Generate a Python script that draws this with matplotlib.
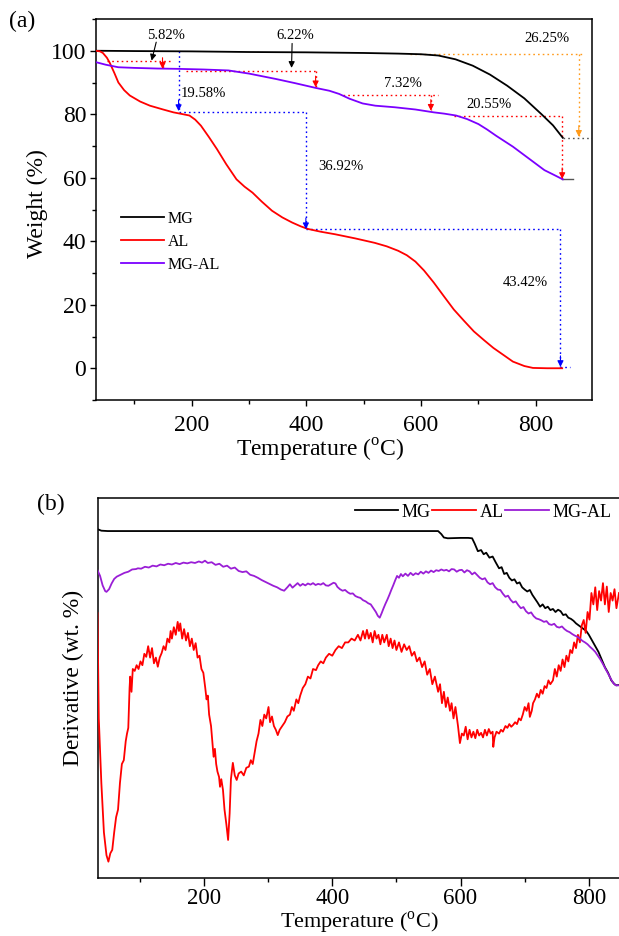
import matplotlib
matplotlib.use("Agg")
import matplotlib.pyplot as plt
from matplotlib.ticker import MultipleLocator, NullLocator

plt.rcParams['font.family'] = ['Liberation Serif', 'DejaVu Serif']
plt.rcParams['mathtext.fontset'] = 'custom'
plt.rcParams['mathtext.rm'] = 'Liberation Serif'

# ---------------- Data: panel (a) TGA ----------------
temp_mg = [33, 100, 200, 300, 400, 500, 560, 600, 630, 660, 690, 720, 750, 780, 810, 830, 847]
weight_mg = [100, 99.9, 99.8, 99.6, 99.5, 99.3, 99.1, 98.9, 98.5, 97.3, 95.3, 92.5, 89.0, 85.0, 80.0, 76.5, 72.6]

temp_al = [33, 40, 45, 52, 57, 65, 72, 82, 92, 110, 127, 150, 168, 185, 196, 206, 216, 230, 244, 260,
           278, 292, 306, 322, 340, 358, 375, 390, 402, 425, 450, 485, 519, 540, 560, 575, 590, 605, 622, 640,
           657, 675, 692, 710, 726, 745, 760, 780, 795, 820, 846]
weight_al = [100, 99.8, 99.3, 97.8, 96.2, 93.0, 90.0, 87.6, 85.9, 84.0, 82.7, 81.5, 80.6, 80.0, 79.6, 78.3, 76.4, 72.8, 69.0, 64.3,
             59.5, 57.2, 55.3, 52.5, 49.6, 47.5, 45.9, 44.7, 43.9, 43.0, 42.2, 40.9, 39.5, 38.4, 37.0, 35.6, 33.6, 30.8, 27.0, 22.6,
             18.5, 14.9, 11.6, 8.8, 6.4, 4.0, 2.1, 0.7, 0.1, 0.0, 0.0]

temp_mgal = [33, 50, 72, 100, 140, 175, 220, 264, 300, 347, 380, 416, 440, 457, 475, 498, 520, 554, 590, 622,
             640, 661, 680, 700, 715, 731, 760, 789, 815, 835, 847]
weight_mgal = [96.4, 95.6, 94.8, 94.6, 94.4, 94.3, 94.1, 93.8, 92.8, 91.1, 89.8, 88.3, 87.4, 86.4, 84.9, 83.4, 82.7, 82.2, 81.5, 80.6,
               80.2, 79.6, 78.5, 76.9, 75.2, 73.2, 69.8, 65.9, 62.4, 60.6, 59.5]

series_names = ["MG", "AL", "MG-AL"]
loss_labels = ["5.82%", "6.22%", "7.32%", "20.55%", "26.25%", "19.58%", "36.92%", "43.42%"]

# ---------------- Data: panel (b) DTG ----------------
dtg_mg_t = [34, 40, 50, 100, 200, 300, 400, 500, 565, 570, 574, 580, 600, 612, 618, 622, 627, 632, 636, 640,
            645, 650, 655, 660, 664, 668, 672, 676, 680, 684, 688, 692, 696, 700, 704, 708, 712, 716, 720, 724,
            728, 732, 736, 740, 744, 748, 752, 756, 760, 764, 768, 772, 776, 780, 784, 788, 792, 796, 800, 805,
            810, 815, 820, 825, 830, 835, 840, 843, 847]
dtg_mg = [91.8, 91.4, 91.3, 91.3, 91.3, 91.3, 91.3, 91.3, 91.3, 90.5, 89.6, 89.4, 89.5, 89.5, 89.4, 88.0, 86.0, 86.3, 85.2, 85.6,
          84.3, 84.6, 83.0, 81.5, 81.8, 80.0, 80.3, 79.0, 78.3, 78.6, 77.5, 77.8, 76.5, 75.9, 75.4, 75.8, 74.5, 73.5, 72.5, 71.4,
          72.0, 71.0, 71.4, 70.5, 70.8, 70.0, 70.6, 70.2, 69.2, 69.4, 68.5, 68.2, 67.7, 67.0, 66.5, 66.0, 65.5, 65.0, 64.0, 62.5,
          61.0, 59.5, 57.5, 55.5, 54.0, 52.0, 51.0, 50.7, 50.8]

dtg_al_t = [34, 35, 36, 40, 44, 48, 51, 54, 57, 60, 63, 66, 69, 72, 75, 78, 80, 82, 84, 85,
            87, 89, 92, 95, 98, 101, 104, 107, 110, 113, 116, 119, 122, 125, 128, 131, 134, 137, 140, 143,
            146, 148, 150, 153, 156, 159, 161, 163, 166, 169, 172, 175, 178, 181, 184, 187, 190, 193, 196, 199,
            202, 204, 206, 208, 211, 213, 215, 217, 219, 221, 223.5, 225, 227, 229.6, 232, 235, 237.6, 240, 242, 245,
            248, 251, 254, 258, 262, 266, 270, 273, 276, 279, 282, 285, 288, 291, 294, 297, 300.6, 303, 306, 309,
            312, 315, 318, 322, 326, 330, 334, 337, 340, 344, 347, 350, 354, 358, 362, 366, 370, 374.6, 378, 382,
            386, 390, 395, 400, 405, 410, 415, 420, 425, 430, 435, 440, 444, 448, 451, 454, 457, 460, 463, 466,
            469, 472, 475, 478, 481, 485, 488, 491, 494, 497, 500, 504, 508, 512, 516, 520, 524, 528, 532, 536,
            540, 544, 548, 552, 556, 560, 565, 568, 571, 574, 577, 580, 583.5, 586, 589, 592, 596, 599, 602, 605,
            608, 611, 614, 617, 620, 623, 626, 629, 632, 635, 638, 641, 644, 647, 650, 651, 653, 656, 660, 663,
            666, 670, 673, 676, 679, 682, 685, 688, 691, 694, 697, 700, 703, 706, 708, 711, 713, 716, 719, 722,
            725, 728, 731, 734, 737, 740, 744, 747, 750, 753, 756, 759, 762, 765, 768, 771, 774, 777, 780, 783,
            786, 789, 792, 795, 798, 801, 804, 807, 810, 813, 816, 819, 822, 825, 828, 831, 834, 837, 840, 843,
            847]
dtg_al = [69.7, 55, 42, 25, 12, 6, 4.3, 6.5, 7.4, 12, 16, 18, 25, 30, 31, 36, 38, 39.5, 50, 53,
          49, 55, 54.5, 56, 55, 57, 56, 59, 58.2, 61, 58, 60.5, 56.5, 58, 55.6, 58, 59.2, 61, 60, 63,
          62, 65, 63, 66, 64, 67.4, 65, 67, 63, 65.5, 62.5, 64.5, 61, 63, 60, 61.8, 58, 58.5, 55, 54,
          50, 47, 48, 43, 40, 36, 31.9, 34, 30, 28, 26.6, 24, 26, 23.2, 18, 14, 10, 17, 26, 30.3,
          27, 25.8, 27.5, 28, 27, 29, 29.3, 31, 30, 33, 36, 38, 41.6, 40, 43, 42, 45, 41, 42.5, 40,
          39, 37.6, 39, 40, 41, 42.5, 43, 45, 44, 47, 46, 48, 50, 51, 53, 52.5, 55, 54.7, 56, 57,
          56.5, 58, 59, 58.5, 60, 61, 60.5, 62, 62, 63, 62.5, 64, 62.5, 65, 63, 65.3, 63, 64.5, 62, 65,
          63, 64, 61.5, 64, 62, 64, 61, 63, 60.5, 62.5, 60, 62, 59.5, 61.5, 60, 61, 58.5, 59.5, 57, 58,
          55.5, 57, 53.5, 55, 51, 53, 49, 51, 46, 49, 45, 47.5, 44, 46, 42, 45, 40, 35.5, 38, 37.5,
          39.8, 36.5, 39, 37, 38.5, 36.8, 39, 37.5, 38.2, 37, 39, 37.5, 39.2, 38, 38.5, 34.5, 37, 38.5, 38, 39,
          38.5, 40, 39.5, 40.5, 39.8, 40.3, 41, 40.5, 42, 41.5, 43, 45, 44, 46, 42.4, 44, 46, 47, 48.5, 47.5,
          49.5, 48.5, 50.5, 50, 52, 51, 52, 55, 53, 56, 54.5, 57.5, 55.5, 58.5, 57, 60, 59.2, 62, 60.5, 64,
          62, 66.5, 67.9, 64.5, 70, 68, 75, 72, 76.5, 70.5, 75.5, 73, 77.6, 72, 76.7, 70, 75, 73, 76, 71,
          75]

dtg_mgal_t = [34, 38, 42, 46, 48, 52, 56, 60, 64, 70, 76, 82, 88, 94, 97, 102, 108, 114, 120, 126,
              132, 138, 144, 150, 156, 162, 168, 174, 180, 186, 192, 197, 201.5, 206, 212, 218, 224, 230, 236, 242,
              248, 254, 260, 266, 272, 278, 284, 290, 296, 302, 308, 314, 320, 325, 330, 334, 338, 342, 346, 350,
              354, 358, 362, 366, 370, 374, 378, 382, 386, 390, 394, 398, 402, 405, 408, 412, 416, 420, 424, 428,
              432, 436, 440, 444, 448, 452, 456, 460, 464, 468, 471, 474, 477, 480, 483, 486, 489, 492, 495, 498,
              501, 504, 507, 510, 514, 518, 522, 526, 530, 534, 538, 542, 546, 550, 554, 558, 562, 566, 570, 574,
              578, 582, 586, 590, 594, 598, 602, 606, 610, 614, 618, 622, 626, 630, 634, 638, 642, 646, 650, 654,
              658, 662, 666, 670, 674, 678, 682, 686, 690, 694, 698, 702, 706, 710, 714, 718, 722, 726, 730, 734,
              738, 742, 746, 750, 754, 758, 762, 766, 770, 774, 778, 782, 786, 790, 794, 798, 802, 806, 810, 814,
              818, 822, 826, 830, 834, 838, 842, 847]
dtg_mgal = [81, 79.5, 77, 75.5, 75.3, 76, 77.5, 78.7, 79.3, 79.8, 80.3, 80.6, 81.2, 81.3, 81.5, 81.4, 81.9, 81.7, 82.2, 82.0,
            82.5, 82.3, 82.7, 82.5, 82.9, 82.6, 83.0, 82.8, 83.1, 82.9, 83.3, 83.0, 83.5, 82.9, 83.1, 82.4, 82.7, 81.9, 82.2, 81.4,
            81.7, 80.8, 80.5, 80.7, 79.8, 79.5, 79.0, 78.4, 77.9, 77.4, 76.9, 76.5, 75.9, 75.6, 76.5, 77.3, 76.4, 77.0, 77.6, 76.9,
            77.4, 77.0, 77.5, 77.2, 77.6, 77.1, 77.4, 77.2, 77.6, 77.0, 76.9, 77.3, 77.7, 77.5, 76.6, 76.0, 75.6, 75.8, 75.2, 74.8,
            74.9, 74.2, 73.9, 73.7, 73.1, 72.8, 72.3, 72.0, 71.0, 70.0, 69.0, 68.5, 69.7, 71.0, 72.2, 73.3, 74.5, 75.8, 77.0, 78.3,
            79.5, 79.0, 80.0, 79.4, 80.1, 79.5, 80.3, 79.7, 80.2, 79.9, 80.6, 80.1, 80.7, 80.3, 80.9, 80.5, 81.0, 80.8, 81.2, 80.9,
            81.1, 80.7, 81.3, 81.2, 80.6, 81.0, 81.1, 80.4, 81.0, 80.7, 79.9, 80.4, 79.7, 79.0, 78.6, 78.9, 77.8, 77.3, 77.6, 76.5,
            75.9, 75.8, 74.8, 74.0, 74.3, 73.2, 72.5, 72.8, 71.8, 71.0, 71.3, 70.2, 69.6, 69.9, 68.9, 68.3, 68.1, 67.8, 67.4, 67.6,
            66.8, 66.6, 66.9, 66.1, 65.9, 66.2, 65.5, 65.0, 64.7, 64.2, 63.8, 63.5, 63.0, 62.4, 62.0, 61.5, 60.8, 60.2, 59.5, 58.5,
            57.5, 56.3, 55.0, 53.8, 52.5, 51.3, 50.7, 50.7]

# ---------------- Figure ----------------
W, H = 619, 936
fig = plt.figure(figsize=(W / 100, H / 100), dpi=100)

def fx(px):
    return px / W

def fy(py):
    return 1 - py / H

c_black = '#000000'
c_red = '#ff0000'
c_purple_a = '#7b00ff'
c_purple_b = '#9a1ed6'
c_blue = '#0000ff'
c_orange = '#ff9a1a'
c_gray = '#555555'

FS = 17

# ---------- Panel (a) ----------
axA = fig.add_axes([fx(96), fy(400), fx(592) - fx(96), fy(19) - fy(400)])
axA.plot(temp_mg, weight_mg, color=c_black, lw=1.3, label=series_names[0], zorder=3)
axA.plot(temp_al, weight_al, color=c_red, lw=1.3, label=series_names[1], zorder=3)
axA.plot(temp_mgal, weight_mgal, color=c_purple_a, lw=1.3, label=series_names[2], zorder=3)
axA.set_xlim(33, 898)
axA.set_ylim(-10, 110)
axA.set_xticks([200, 400, 600, 800])
axA.xaxis.set_minor_locator(MultipleLocator(100))
axA.yaxis.set_major_locator(MultipleLocator(20))
axA.yaxis.set_minor_locator(MultipleLocator(10))
axA.tick_params(axis='both', which='major', direction='out', length=4.5, width=1.0, labelsize=FS)
axA.tick_params(axis='both', which='minor', direction='out', length=3, width=1.0)
axA.tick_params(axis='x', which='major', pad=6)
axA.tick_params(axis='y', which='major', pad=2.5)
for s in axA.spines.values():
    s.set_linewidth(1.1)

def dotted(ax, xs, ys, color):
    ax.plot(xs, ys, color=color, lw=1.0, ls=(0, (1.2, 2.2)), zorder=2)

def head(ax, x, ytip, color, dy=3.5):
    ax.annotate('', xy=(x, ytip), xytext=(x, ytip + dy),
                arrowprops=dict(arrowstyle='-|>', color=color, lw=0.8,
                                mutation_scale=9, shrinkA=0, shrinkB=0), zorder=4)

# red guides for MG-AL
dotted(axA, [52, 167], [96.7, 96.7], c_red)
dotted(axA, [149, 149], [96.7, 94.4], c_red)
head(axA, 149, 94.3, c_red)
dotted(axA, [190, 419], [93.7, 93.7], c_red)
dotted(axA, [416, 416], [93.7, 88.6], c_red)
head(axA, 416, 88.5, c_red)
dotted(axA, [464, 629], [86.0, 86.0], c_red)
dotted(axA, [617, 617], [86.0, 81.2], c_red)
head(axA, 617, 81.1, c_red)
dotted(axA, [657, 846], [79.4, 79.4], c_red)
dotted(axA, [846, 846], [79.4, 59.6], c_red)
head(axA, 846, 59.6, c_red)
axA.plot([846, 864], [59.5, 59.5], color=c_gray, lw=1.0, zorder=2)

# orange / gray guides for MG
dotted(axA, [581, 884], [99.0, 99.0], c_orange)
dotted(axA, [875, 875], [99.0, 72.9], c_orange)
head(axA, 875, 72.9, c_orange)
dotted(axA, [847, 899], [72.6, 72.6], c_gray)

# blue guides for AL
dotted(axA, [177, 177], [100, 81.2], c_blue)
head(axA, 177, 81.0, c_blue)
dotted(axA, [177, 399], [80.8, 80.8], c_blue)
dotted(axA, [399, 399], [80.8, 44.0], c_blue)
head(axA, 399, 43.8, c_blue)
dotted(axA, [399, 843], [43.8, 43.8], c_blue)
dotted(axA, [843, 843], [43.8, 0.5], c_blue)
head(axA, 843, 0.4, c_blue)
dotted(axA, [843, 859], [0.3, 0.3], c_blue)

# black pointer arrows
axA.annotate('', xy=(130, 96.9), xytext=(138, 102.7),
             arrowprops=dict(arrowstyle='-|>', color='k', lw=0.8, mutation_scale=9,
                             shrinkA=0, shrinkB=0))
axA.annotate('', xy=(374, 94.6), xytext=(375, 102.3),
             arrowprops=dict(arrowstyle='-|>', color='k', lw=0.8, mutation_scale=9,
                             shrinkA=0, shrinkB=0))

AFS = 10.5
axA.text(155, 104.8, loss_labels[0], fontsize=AFS, ha='center', va='center')
axA.text(380, 104.8, loss_labels[1], fontsize=AFS, ha='center', va='center')
axA.text(568, 89.6, loss_labels[2], fontsize=AFS, ha='center', va='center')
axA.text(719, 83.0, loss_labels[3], fontsize=AFS, ha='center', va='center')
axA.text(819, 103.8, loss_labels[4], fontsize=AFS, ha='center', va='center')
axA.text(180, 86.6, loss_labels[5], fontsize=AFS, ha='left', va='center')
axA.text(460, 63.7, loss_labels[6], fontsize=AFS, ha='center', va='center')
axA.text(781, 27.0, loss_labels[7], fontsize=AFS, ha='center', va='center')

axA.legend(loc='upper left', bbox_to_anchor=(0.05, 0.497), frameon=False,
           fontsize=11.5, handlelength=2.7, handletextpad=0.25, labelspacing=0.45,
           borderaxespad=0, borderpad=0)

fig.text(fx(22), fy(21), '(a)', fontsize=FS, ha='center', va='center')
fig.text(fx(37), fy(204), 'Weight (%)', fontsize=FS, rotation=90, ha='center', va='center')
fig.text(fx(320), fy(450), 'Temperature ($^{\\rm o}$C)', fontsize=FS, ha='center', va='center')

# ---------- Panel (b) ----------
axB = fig.add_axes([fx(97.5), fy(878), 1 - fx(97.5), fy(498) - fy(878)])
axB.plot(dtg_mg_t, dtg_mg, color=c_black, lw=1.3, label=series_names[0], zorder=3)
axB.plot(dtg_al_t, dtg_al, color=c_red, lw=1.3, label=series_names[1], zorder=3)
axB.plot(dtg_mgal_t, dtg_mgal, color=c_purple_b, lw=1.3, label=series_names[2], zorder=3)
axB.set_xlim(34, 847)
axB.set_ylim(0, 100)
axB.set_xticks([200, 400, 600, 800])
axB.xaxis.set_minor_locator(MultipleLocator(100))
axB.yaxis.set_major_locator(NullLocator())
axB.yaxis.set_minor_locator(NullLocator())
axB.spines['right'].set_visible(False)
for s in axB.spines.values():
    s.set_linewidth(1.1)
axB.tick_params(axis='x', which='major', direction='out', length=5.5, width=1.0, labelsize=16.5, pad=2)
axB.tick_params(axis='x', which='minor', direction='out', length=3, width=1.0)

axB.legend(loc='upper right', bbox_to_anchor=(0.985, 0.985), ncol=3, frameon=False,
           fontsize=13, handlelength=2.4, handletextpad=0.2, columnspacing=0.1,
           borderaxespad=0, borderpad=0)

fig.text(fx(51), fy(504), '(b)', fontsize=FS, ha='center', va='center')
fig.text(fx(73), fy(678), 'Derivative (wt. %)', fontsize=FS, rotation=90, ha='center', va='center')
fig.text(fx(359), fy(923), 'Temperature ($^{\\rm o}$C)', fontsize=16, ha='center', va='center')

fig.savefig('out.png', dpi=100)
